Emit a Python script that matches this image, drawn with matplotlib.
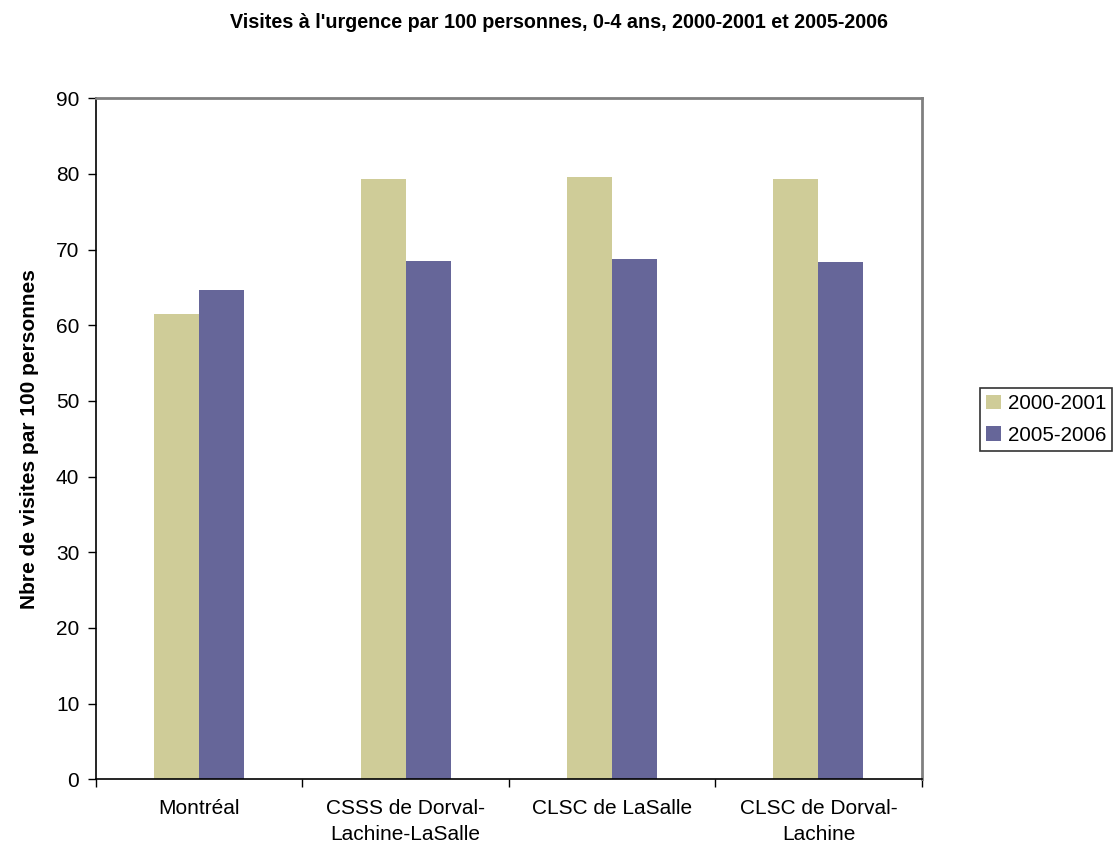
import numpy as np
import matplotlib.pyplot as plt
from matplotlib.ticker import FixedLocator

plt.rcParams['font.family'] = ['Liberation Sans', 'DejaVu Sans']

# Data
categories = ["Montréal", "CSSS de Dorval-\nLachine-LaSalle", "CLSC de LaSalle", "CLSC de Dorval-\nLachine"]
series_names = ["2000-2001", "2005-2006"]
visits_2000 = [61.5, 79.4, 79.6, 79.4]
visits_2005 = [64.7, 68.5, 68.7, 68.3]
y_ticks = list(range(0, 91, 10))

colors = ["#CFCC98", "#666699"]

fig = plt.figure(figsize=(11.15, 8.46), dpi=100)
ax = fig.add_axes([96 / 1115, 1 - 779.3 / 846, (921.7 - 96) / 1115, (779.3 - 98.3) / 846])

x = np.arange(len(categories))
width = 0.218
ax.bar(x - width / 2, visits_2000, width, color=colors[0], label=series_names[0])
ax.bar(x + width / 2, visits_2005, width, color=colors[1], label=series_names[1])

ax.set_xlim(-0.5, len(categories) - 0.5)
ax.set_ylim(0, 90)
ax.set_yticks(y_ticks)

# category labels centred, tick marks between categories
ax.set_xticks(x)
ax.set_xticklabels(categories, fontsize=15, linespacing=1.5)
ax.xaxis.set_minor_locator(FixedLocator(np.arange(-0.5, len(categories), 1.0)))
ax.tick_params(axis='x', which='major', length=0, pad=14)
ax.tick_params(axis='x', which='minor', length=6, width=1, direction='out')
ax.tick_params(axis='y', length=6, width=1, direction='out', labelsize=15, pad=6)

for side in ['top', 'right']:
    ax.spines[side].set_color('#808080')
    ax.spines[side].set_linewidth(2)
for side in ['left', 'bottom']:
    ax.spines[side].set_color('black')
    ax.spines[side].set_linewidth(1.2)

ax.set_ylabel("Nbre de visites par 100 personnes", fontsize=15, fontweight='bold', labelpad=12)
fig.text(559 / 1115, 1 - 22 / 846, "Visites à l'urgence par 100 personnes, 0-4 ans, 2000-2001 et 2005-2006",
         ha='center', va='center', fontsize=14.2, fontweight='bold')

leg = ax.legend(loc='center left', bbox_to_anchor=(980 / 1115, 1 - 419.5 / 846),
                bbox_transform=fig.transFigure, fontsize=14.8, frameon=True, fancybox=False,
                handlelength=0.7, handleheight=0.7, handletextpad=0.35, borderaxespad=0,
                borderpad=0.3, labelspacing=0.6)
leg.get_frame().set_edgecolor('black')
leg.get_frame().set_linewidth(1.2)

fig.savefig("out.png", dpi=100)
